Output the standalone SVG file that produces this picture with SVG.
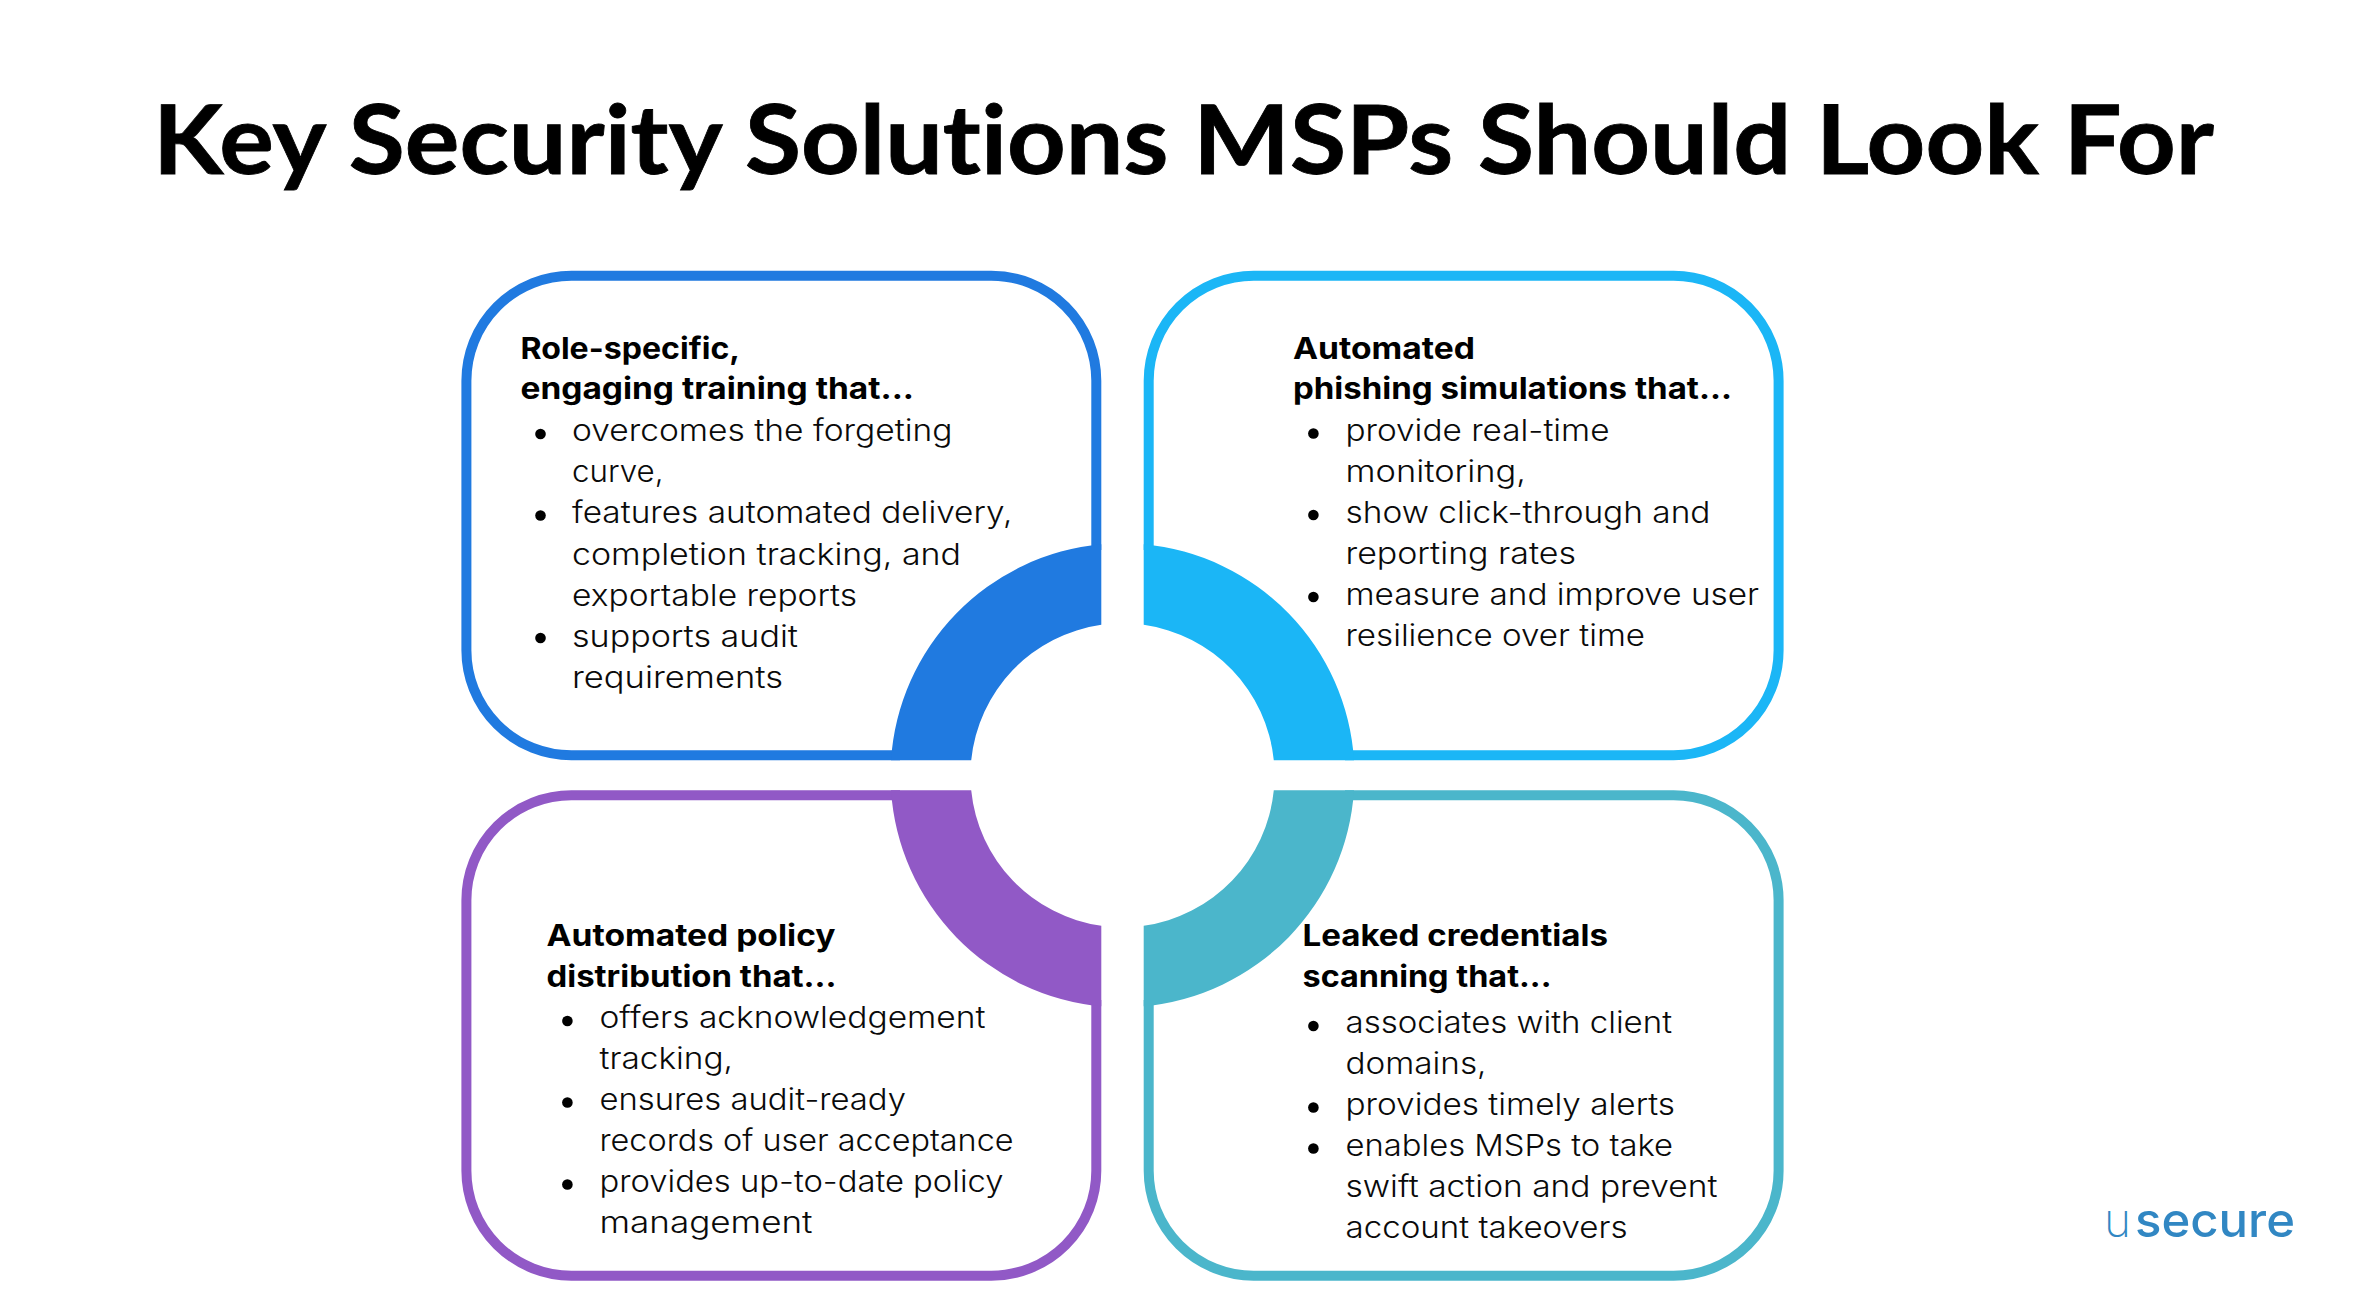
<svg xmlns="http://www.w3.org/2000/svg" width="2375" height="1312" viewBox="0 0 2375 1312">
<style>
text{font-family:"Inter","Noto Sans",sans-serif;fill:#0a0a0a;font-variant-ligatures:none}
.title{font-family:"Lato","Noto Sans",sans-serif;font-size:96px;font-weight:700;fill:#000;stroke:#000;stroke-width:.8px}
.h{font-size:30px;font-weight:700;fill:#000}
.b{font-size:30px;font-weight:300}
.box{fill:none;stroke-width:10}
.dot{fill:#000}
.logo{font-size:48px;fill:#3187c3}
</style>
<rect width="2375" height="1312" fill="#fff"/>
<text class="title" x="153" y="174" textLength="2061" lengthAdjust="spacingAndGlyphs">Key Security Solutions MSPs Should Look For</text>
<g id="connectors"/>
<g id="node-training">
<path class="box" stroke="#207ae0" d="M900 755.3H571.4A105 105 0 0 1 466.4 650.3V380.7A105 105 0 0 1 571.4 275.7H991.3A105 105 0 0 1 1096.3 380.7V550"/>
<path fill="#207ae0" d="M1101.3 544.27A232 232 0 0 0 891 760.3H971.2A152 152 0 0 1 1101.3 624.8Z"/>
<text class="h" x="520.5" y="358.7" textLength="219.5" lengthAdjust="spacingAndGlyphs">Role-specific,</text>
<text class="h" x="520.5" y="399.2" textLength="393.5" lengthAdjust="spacingAndGlyphs">engaging training that...</text>
<circle class="dot" cx="540.5" cy="434" r="5.3"/><circle class="dot" cx="540.5" cy="515.5" r="5.3"/><circle class="dot" cx="540.5" cy="638" r="5.3"/>
<text class="b" x="572" y="440.7" textLength="380.5" lengthAdjust="spacingAndGlyphs">overcomes the forgeting</text>
<text class="b" x="572" y="482" textLength="91.5" lengthAdjust="spacingAndGlyphs">curve,</text>
<text class="b" x="572" y="523.2" textLength="440.5" lengthAdjust="spacingAndGlyphs">features automated delivery,</text>
<text class="b" x="572" y="564.7" textLength="389" lengthAdjust="spacingAndGlyphs">completion tracking, and</text>
<text class="b" x="572" y="605.7" textLength="285" lengthAdjust="spacingAndGlyphs">exportable reports</text>
<text class="b" x="572" y="646.7" textLength="226" lengthAdjust="spacingAndGlyphs">supports audit</text>
<text class="b" x="572" y="687.7" textLength="211" lengthAdjust="spacingAndGlyphs">requirements</text>
</g>
<g id="node-phishing">
<path class="box" stroke="#1bb6f6" d="M1148.7 550V380.7A105 105 0 0 1 1253.7 275.7H1673.6A105 105 0 0 1 1778.6 380.7V650.3A105 105 0 0 1 1673.6 755.3H1345"/>
<path fill="#1bb6f6" d="M1143.7 544.27A232 232 0 0 1 1354 760.3H1273.8A152 152 0 0 0 1143.7 624.8Z"/>
<text class="h" x="1293" y="358.7" textLength="182" lengthAdjust="spacingAndGlyphs">Automated</text>
<text class="h" x="1293" y="399.2" textLength="439" lengthAdjust="spacingAndGlyphs">phishing simulations that...</text>
<circle class="dot" cx="1313.4" cy="433.5" r="5.3"/><circle class="dot" cx="1313.4" cy="515" r="5.3"/><circle class="dot" cx="1313.4" cy="597" r="5.3"/>
<text class="b" x="1345.5" y="440.7" textLength="264" lengthAdjust="spacingAndGlyphs">provide real-time</text>
<text class="b" x="1345.5" y="481.7" textLength="180.5" lengthAdjust="spacingAndGlyphs">monitoring,</text>
<text class="b" x="1345.5" y="522.7" textLength="365" lengthAdjust="spacingAndGlyphs">show click-through and</text>
<text class="b" x="1345.5" y="563.7" textLength="230.5" lengthAdjust="spacingAndGlyphs">reporting rates</text>
<text class="b" x="1345.5" y="604.7" textLength="413.5" lengthAdjust="spacingAndGlyphs">measure and improve user</text>
<text class="b" x="1345.5" y="646.2" textLength="299.5" lengthAdjust="spacingAndGlyphs">resilience over time</text>
</g>
<g id="node-policy">
<path class="box" stroke="#9159c6" d="M1096.3 1000V1170.7A105 105 0 0 1 991.3 1275.7H571.4A105 105 0 0 1 466.4 1170.7V900.3A105 105 0 0 1 571.4 795.3H900"/>
<path fill="#9159c6" d="M891 790.3A232 232 0 0 0 1101.3 1006.33V925.8A152 152 0 0 1 971.2 790.3Z"/>
<text class="h" x="546.5" y="945.5" textLength="289" lengthAdjust="spacingAndGlyphs">Automated policy</text>
<text class="h" x="546.5" y="986.5" textLength="290" lengthAdjust="spacingAndGlyphs">distribution that...</text>
<circle class="dot" cx="567.4" cy="1021" r="5.3"/><circle class="dot" cx="567.4" cy="1102.5" r="5.3"/><circle class="dot" cx="567.4" cy="1184.5" r="5.3"/>
<text class="b" x="599.5" y="1028" textLength="386" lengthAdjust="spacingAndGlyphs">offers acknowledgement</text>
<text class="b" x="599.5" y="1069" textLength="133.5" lengthAdjust="spacingAndGlyphs">tracking,</text>
<text class="b" x="599.5" y="1110" textLength="306.5" lengthAdjust="spacingAndGlyphs">ensures audit-ready</text>
<text class="b" x="599.5" y="1151" textLength="414" lengthAdjust="spacingAndGlyphs">records of user acceptance</text>
<text class="b" x="599.5" y="1192" textLength="404" lengthAdjust="spacingAndGlyphs">provides up-to-date policy</text>
<text class="b" x="599.5" y="1232.8" textLength="213" lengthAdjust="spacingAndGlyphs">management</text>
</g>
<g id="node-credentials">
<path class="box" stroke="#4bb6cb" d="M1345 795.3H1673.6A105 105 0 0 1 1778.6 900.3V1170.7A105 105 0 0 1 1673.6 1275.7H1253.7A105 105 0 0 1 1148.7 1170.7V1000"/>
<path fill="#4bb6cb" d="M1354 790.3A232 232 0 0 1 1143.7 1006.33V925.8A152 152 0 0 0 1273.8 790.3Z"/>
<text class="h" x="1302.5" y="945.5" textLength="305.5" lengthAdjust="spacingAndGlyphs">Leaked credentials</text>
<text class="h" x="1302.5" y="986.5" textLength="249" lengthAdjust="spacingAndGlyphs">scanning that...</text>
<circle class="dot" cx="1313.4" cy="1026" r="5.3"/><circle class="dot" cx="1313.4" cy="1107.5" r="5.3"/><circle class="dot" cx="1313.4" cy="1148.5" r="5.3"/>
<text class="b" x="1345.5" y="1032.7" textLength="326.5" lengthAdjust="spacingAndGlyphs">associates with client</text>
<text class="b" x="1345.5" y="1073.7" textLength="141" lengthAdjust="spacingAndGlyphs">domains,</text>
<text class="b" x="1345.5" y="1114.7" textLength="329.5" lengthAdjust="spacingAndGlyphs">provides timely alerts</text>
<text class="b" x="1345.5" y="1155.7" textLength="327.5" lengthAdjust="spacingAndGlyphs">enables MSPs to take</text>
<text class="b" x="1345.5" y="1196.7" textLength="372" lengthAdjust="spacingAndGlyphs">swift action and prevent</text>
<text class="b" x="1345.5" y="1237.7" textLength="282" lengthAdjust="spacingAndGlyphs">account takeovers</text>
</g>
<g id="logo">
<text class="logo" x="2104" y="1236.5" font-weight="200" textLength="27" lengthAdjust="spacingAndGlyphs">u</text>
<text class="logo" x="2135" y="1236.5" font-weight="500" textLength="160" lengthAdjust="spacingAndGlyphs">secure</text>
</g>
</svg>
